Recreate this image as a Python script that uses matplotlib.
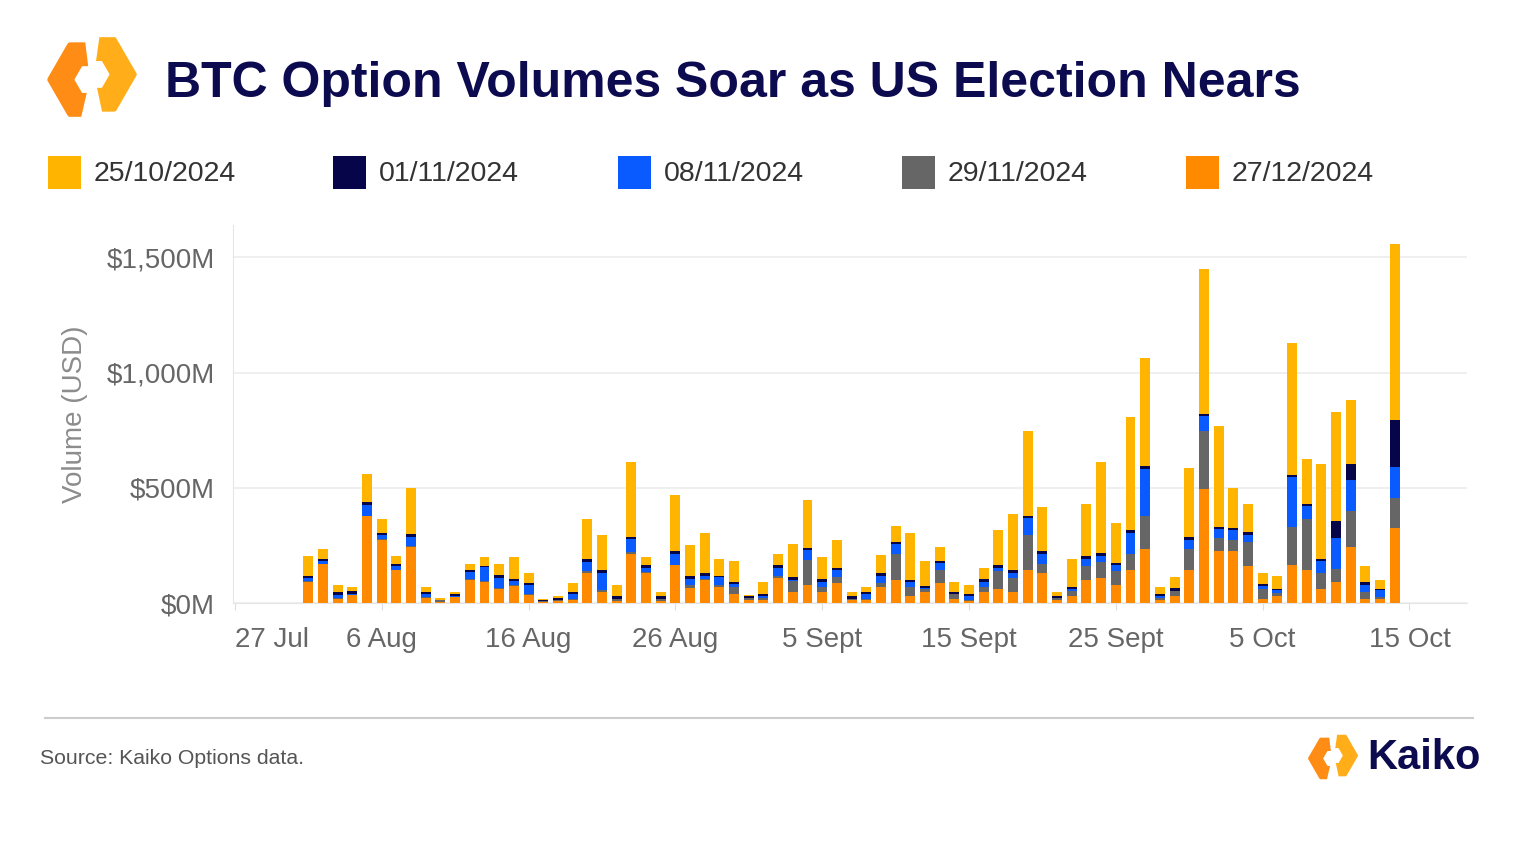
import numpy as np
import pandas as pd
import matplotlib
matplotlib.use("Agg")
import matplotlib.pyplot as plt
import matplotlib.dates as mdates
from matplotlib.patches import Polygon, Rectangle
from matplotlib.ticker import FuncFormatter, FixedLocator

plt.rcParams['font.family'] = ['Liberation Sans', 'DejaVu Sans']

# daily volumes in $M, 1 Aug 2024 .. 14 Oct 2024, one list per expiry
dates = pd.date_range("2024-08-01", "2024-10-14", freq="D")

exp_2510 = [85, 45, 32, 19, 122, 63, 33, 203, 20, 7, 9, 28, 38, 51, 95, 43, 7, 8, 40, 174,
            152, 48, 326, 36, 17, 242, 137, 174, 72, 91, 7,
            51, 48, 143, 208, 98, 123, 19, 22, 81, 69, 205, 109, 61, 41, 39, 51, 152, 243, 368,
            192, 17, 123, 226, 398, 174, 492, 472, 29, 48, 297,
            625, 440, 174, 123, 46, 55, 572, 194, 412, 473, 278, 71, 36, 764]
exp_0111 = [10, 10, 12, 10, 12, 10, 10, 12, 9, 3, 8, 10, 7, 12, 9, 10, 3, 9, 7, 12,
            12, 12, 10, 10, 12, 12, 10, 10, 7, 10, 6,
            9, 10, 12, 9, 10, 10, 10, 7, 10, 10, 10, 10, 9, 10, 9, 10, 10, 10, 9,
            10, 7, 7, 10, 12, 10, 12, 10, 10, 10, 12,
            10, 9, 9, 12, 9, 7, 10, 9, 10, 72, 69, 13, 7, 205]
exp_0811 = [14, 10, 13, 5, 48, 15, 15, 40, 13, 1, 2, 29, 61, 42, 18, 36, 1, 1, 22, 42,
            75, 1, 55, 19, 0, 46, 29, 14, 36, 12, 1,
            6, 38, 3, 43, 22, 29, 0, 22, 33, 41, 19, 1, 32, 1, 20, 22, 12, 22, 75,
            43, 0, 10, 33, 25, 25, 93, 207, 7, 1, 39,
            67, 39, 43, 29, 13, 12, 217, 54, 52, 135, 133, 29, 29, 133]
exp_2911 = [3, 3, 4, 2, 3, 3, 3, 3, 5, 6, 1, 3, 3, 4, 3, 7, 4, 2, 7, 8,
            7, 9, 7, 3, 10, 3, 10, 7, 7, 29, 10,
            9, 6, 48, 111, 22, 26, 7, 7, 17, 113, 41, 14, 54, 19, 4, 22, 82, 62, 152,
            41, 10, 23, 58, 68, 59, 69, 140, 9, 23, 94,
            249, 54, 49, 104, 43, 14, 164, 224, 71, 58, 156, 29, 7, 130]
exp_2712 = [91, 168, 19, 33, 376, 275, 142, 243, 22, 5, 26, 101, 91, 62, 75, 33, 4, 10, 12, 130,
            48, 8, 214, 132, 9, 164, 67, 98, 69, 41, 12,
            14, 110, 48, 77, 48, 87, 12, 12, 69, 101, 29, 48, 88, 19, 7, 48, 59, 48, 142,
            130, 12, 29, 101, 110, 80, 142, 236, 14, 29, 142,
            496, 226, 226, 161, 19, 29, 164, 142, 59, 91, 243, 19, 19, 327]

# legend order, stacking goes bottom-up in reverse
labels = ["25/10/2024", "01/11/2024", "08/11/2024", "29/11/2024", "27/12/2024"]
colors = ["#FFB400", "#06054A", "#0A5BFF", "#666666", "#FF8A00"]
series = [exp_2510, exp_0111, exp_0811, exp_2911, exp_2712]

tick_dates = pd.to_datetime(["2024-07-27", "2024-08-06", "2024-08-16", "2024-08-26", "2024-09-05",
                             "2024-09-15", "2024-09-25", "2024-10-05", "2024-10-15"])
tick_labels = ["27 Jul", "6 Aug", "16 Aug", "26 Aug", "5 Sept", "15 Sept", "25 Sept", "5 Oct", "15 Oct"]
y_ticks = [0, 500, 1000, 1500]

W, H = 1525, 842
fig = plt.figure(figsize=(W / 100, H / 100), dpi=100)
fig.patch.set_facecolor("white")

ax = fig.add_axes([233 / W, 1 - 603 / H, (1467 - 233) / W, (603 - 225) / H])
x = mdates.date2num(dates)
bottom = np.zeros(len(dates))
for vals, col in zip(series[::-1], colors[::-1]):
    vals = np.array(vals, dtype=float)
    ax.bar(x, vals, bottom=bottom, width=0.68, color=col, linewidth=0, zorder=3)
    bottom += vals

x0 = mdates.date2num(pd.Timestamp("2024-07-27"))
x1 = mdates.date2num(pd.Timestamp("2024-10-15"))
ax.set_xlim(x0 - 0.13, x1 + 3.92)
ax.set_ylim(0, 1640)

ax.xaxis.set_major_locator(FixedLocator(mdates.date2num(tick_dates)))
ax.set_xticklabels(tick_labels)
ax.set_yticks(y_ticks)
ax.yaxis.set_major_formatter(FuncFormatter(lambda v, p: f"${v:,.0f}M"))
ax.tick_params(axis="x", length=5, color="#dddddd", pad=12, labelsize=20, labelcolor="#666666")
ax.tick_params(axis="y", length=0, pad=13, labelsize=20, labelcolor="#666666")
ax.get_xticklabels()[0].set_ha("left")
ax.grid(axis="y", color="#ececec", linewidth=1.2, zorder=0)
for s in ["top", "right"]:
    ax.spines[s].set_visible(False)
for s in ["left", "bottom"]:
    ax.spines[s].set_color("#e6e6e6")
ax.set_ylabel("Volume (USD)", fontsize=20, color="#8c8c8c")
ax.yaxis.set_label_coords((88 - 233) / 1234, 0.5)

# decorations in pixel coordinates
deco = fig.add_axes([0, 0, 1, 1], zorder=-1)
deco.set_xlim(0, W)
deco.set_ylim(H, 0)
deco.axis("off")


def hex_piece(cx, cy, r_out, r_in, a0, a1, color):
    th = np.radians(np.linspace(a0, a1, 60))
    k = np.cos(np.radians(30)) / np.cos(np.radians((np.degrees(th) % 60) - 30))
    outer = np.c_[cx + r_out * k * np.cos(th), cy - r_out * k * np.sin(th)]
    inner = np.c_[cx + r_in * k * np.cos(th), cy - r_in * k * np.sin(th)][::-1]
    deco.add_patch(Polygon(np.vstack([outer, inner]), closed=True, color=color, lw=0))


def logo(cx, cy, r):
    hex_piece(cx - r * 0.05, cy + r * 0.06, r, r * 0.36, 97, 257, "#FF8C14")
    hex_piece(cx + r * 0.05, cy - r * 0.06, r, r * 0.36, -78, 82, "#FFAE1A")


logo(92, 77, 43)
fig.text(165 / W, 1 - 84 / H, "BTC Option Volumes Soar as US Election Nears",
         fontsize=36, fontweight="bold", color="#0D0B4F", va="center", ha="left")

leg_x = [48, 333, 618, 902, 1186]
for lx, lab, col in zip(leg_x, labels, colors):
    deco.add_patch(Rectangle((lx, 156), 33, 33, color=col, lw=0))
    deco.text(lx + 46, 174, lab, fontsize=20.5, color="#333333", va="center", ha="left")

deco.plot([45, 1473], [718, 718], color="#cccccc", lw=1.5)
deco.text(40, 758, "Source: Kaiko Options data.", fontsize=15.3, color="#555555", va="center", ha="left")
logo(1333, 757, 24)
deco.text(1367, 758, "Kaiko", fontsize=30, fontweight="bold", color="#0D0B4F", va="center", ha="left")

fig.savefig("out.png", dpi=100, facecolor="white")
plt.close(fig)
